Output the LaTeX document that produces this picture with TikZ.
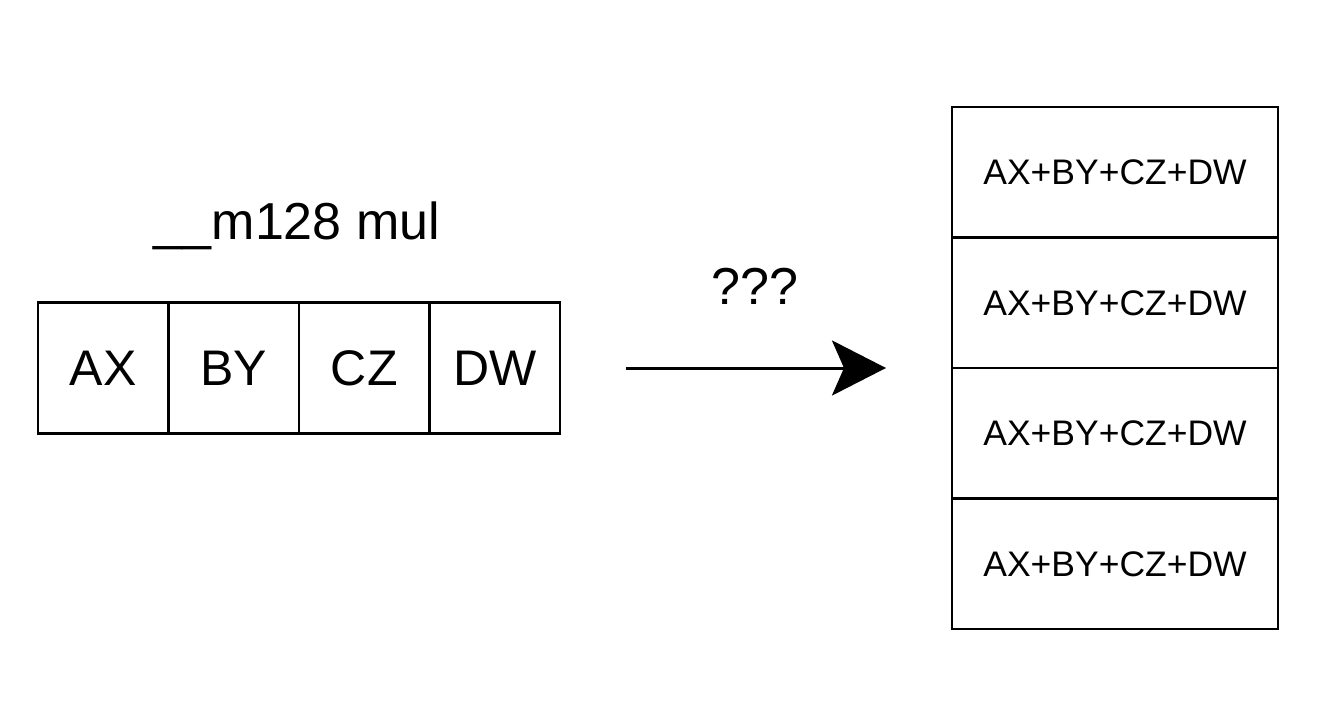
\documentclass[tikz,border=0pt]{standalone}
\usepackage{fontspec}
\setmainfont{Liberation Sans}
\usetikzlibrary{arrows.meta}
\begin{document}
\begin{tikzpicture}[x=1pt,y=-1pt,
  cell/.style={draw=black,line width=2.8pt,minimum width=130.5pt,minimum height=130.5pt,inner sep=0pt,
    font=\fontsize{50}{60}\selectfont},
  rcell/.style={draw=black,line width=2.8pt,minimum width=326pt,minimum height=130.5pt,inner sep=0pt,
    font=\fontsize{35.5}{42}\selectfont},
  biglabel/.style={inner sep=0pt,font=\fontsize{52}{62}\selectfont}]
\useasboundingbox (0,0) rectangle (1327,708);
% left register
\node[cell] (ax) at (103.3,368) {AX};
\node[cell] (by) at (233.8,368) {BY};
\node[cell] (cz) at (364.3,368) {CZ};
\node[cell] (dw) at (494.8,368) {DW};
\node[biglabel,anchor=base] (title) at (297,240) {\_\_m128 mul};
% arrow
\coordinate (s) at (626,368);
\coordinate (t) at (886,368);
\draw[line width=3pt,-{Stealth[length=54pt,width=55pt,inset=12pt]}] (s) -- (t);
\node[biglabel,anchor=base] (q) at (755,305) {???};
% right column
\node[rcell] (r1) at (1115,172.3) {AX+BY+CZ+DW};
\node[rcell] (r2) at (1115,302.8) {AX+BY+CZ+DW};
\node[rcell] (r3) at (1115,433.3) {AX+BY+CZ+DW};
\node[rcell] (r4) at (1115,563.8) {AX+BY+CZ+DW};
\end{tikzpicture}
\end{document}
